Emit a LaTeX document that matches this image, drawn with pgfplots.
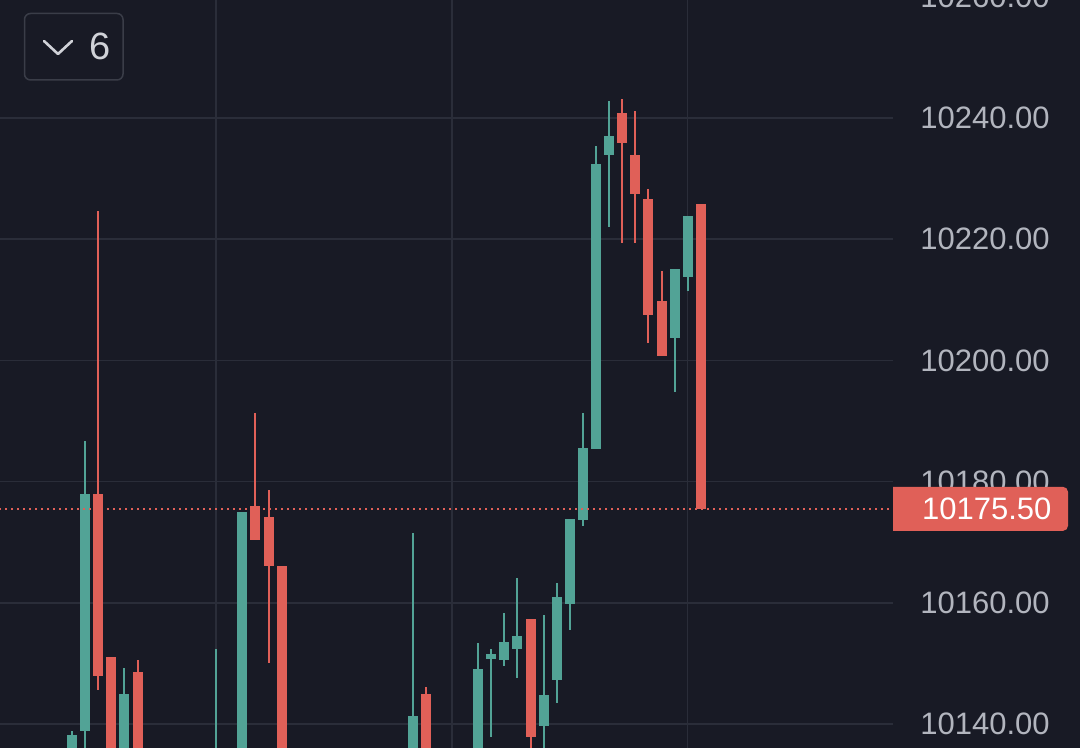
\documentclass[border=0pt]{standalone}
\usepackage{pgfplots}
\pgfplotsset{compat=1.18}
\usepackage{pgfplotstable}
\usepackage{fontspec}
\setmainfont{Liberation Sans}
\definecolor{bg}{RGB}{24,26,37}
\definecolor{gridc}{RGB}{42,45,57}
\definecolor{cgreen}{RGB}{82,163,150}
\definecolor{cred}{RGB}{224,96,88}
\definecolor{lab}{RGB}{178,181,190}
\definecolor{btnborder}{RGB}{58,61,72}
\definecolor{btntext}{RGB}{208,210,216}

\pgfplotstableread{
k O H L C
0 10128 10138.9 10124 10138.35
1 10138.9 10186.9 10128 10178.1
4 10128 10149.2 10124 10145.1
11 10122 10152.5 10118 10130
13 10122 10175.0 10118 10175.0
26 10128 10171.5 10124 10141.3
31 10130 10153.4 10126 10149.2
32 10150.9 10152.4 10137.9 10151.7
33 10150.6 10158.5 10149.7 10153.5
34 10152.4 10164.1 10147.6 10154.5
36 10139.7 10158.0 10132 10144.8
37 10147.4 10163.3 10143.5 10161.1
38 10159.8 10173.8 10155.5 10173.8
39 10173.7 10191.5 10172.8 10185.5
40 10185.4 10235.4 10185.4 10232.4
41 10233.9 10242.8 10222.0 10237.0
46 10203.7 10215.1 10194.8 10215.1
47 10213.9 10224.0 10211.6 10224.0
}\greendata

\pgfplotstableread{
k O H L C
2 10178.1 10224.7 10145.6 10148.1
3 10151.1 10151.1 10124 10128
5 10148.7 10150.6 10126 10130
14 10176.0 10191.3 10170.4 10170.4
15 10174.3 10178.6 10150.1 10166.1
16 10166.2 10166.2 10118 10122
27 10145.1 10146.3 10124 10128
35 10157.3 10157.3 10134 10137.9
42 10240.8 10243.3 10219.5 10235.9
43 10234.1 10241.2 10219.4 10227.6
44 10226.8 10228.3 10202.9 10207.7
45 10209.8 10214.8 10200.7 10200.7
48 10225.8 10225.8 10175.5 10175.5
}\reddata

\pgfplotstableread{
x y
-6 10175.5
63 10175.5
}\priceline

\begin{document}
\begin{tikzpicture}
\useasboundingbox (0,0) rectangle (540pt,374pt);
\clip (0,0) rectangle (540pt,374pt);
\fill[bg] (0,0) rectangle (540pt,374pt);
\begin{axis}[
  at={(0pt,-3.15pt)}, anchor=south west,
  scale only axis, width=446.5pt, height=384.81pt,
  xmin=-5.496, xmax=62.67, ymin=10135, ymax=10262,
  axis line style={draw=none},
  major tick style={draw=none},
  grid=major,
  major grid style={gridc, line width=0.75pt},
  xtick={11,29,47}, xticklabels={},
  ytick={10140,10160,10180,10200,10220,10240,10260},
  scaled y ticks=false,
  yticklabel pos=right,
  yticklabel style={anchor=west, inner sep=0pt, xshift=13.5pt,
    font=\fontsize{15.5}{18}\selectfont, text=lab,
    /pgf/number format/fixed, /pgf/number format/fixed zerofill,
    /pgf/number format/precision=2, /pgf/number format/1000 sep={},
    /pgf/number format/assume math mode=true},
]
% green wicks and bodies
\addplot[draw=none, mark=none, forget plot,
  error bars/.cd, y dir=both, y explicit, error mark=none,
  error bar style={draw=cgreen, line width=1pt}]
  table[x=k, y expr={(\thisrow{H}+\thisrow{L})/2}, y error expr={(\thisrow{H}-\thisrow{L})/2}] {\greendata};
\addplot[draw=none, mark=none, forget plot,
  error bars/.cd, y dir=both, y explicit, error mark=none,
  error bar style={draw=cgreen, line width=5pt}]
  table[x=k, y expr={(\thisrow{O}+\thisrow{C})/2}, y error expr={abs(\thisrow{C}-\thisrow{O})/2}] {\greendata};
% red wicks and bodies
\addplot[draw=none, mark=none, forget plot,
  error bars/.cd, y dir=both, y explicit, error mark=none,
  error bar style={draw=cred, line width=1pt}]
  table[x=k, y expr={(\thisrow{H}+\thisrow{L})/2}, y error expr={(\thisrow{H}-\thisrow{L})/2}] {\reddata};
\addplot[draw=none, mark=none, forget plot,
  error bars/.cd, y dir=both, y explicit, error mark=none,
  error bar style={draw=cred, line width=5pt}]
  table[x=k, y expr={(\thisrow{O}+\thisrow{C})/2}, y error expr={abs(\thisrow{C}-\thisrow{O})/2}] {\reddata};
% last price line
\addplot[cred, line width=1pt, dash pattern=on 1pt off 2pt, forget plot] table[x=x,y=y] {\priceline};
\coordinate (pl) at (axis cs:62.67,10175.5);
\end{axis}
% price label
\fill[cred] ([yshift=-11pt]pl) -- ([yshift=11pt]pl) [rounded corners=2.5pt] -- ++(87.5pt,0) -- ++(0,-22pt) [sharp corners] -- cycle;
\node[anchor=west, inner sep=0pt, text=white, font=\fontsize{15.5}{18}\selectfont] at ([xshift=14.35pt]pl) {10175.50};
% top-left button
\draw[btnborder, line width=0.75pt, rounded corners=3pt] (12.25pt,334pt) rectangle (61.5pt,367.25pt);
\draw[btntext, line width=1.3pt, line cap=round, line join=round] (22pt,353.5pt) -- (29pt,347pt) -- (36pt,353.5pt);
\node[text=btntext, inner sep=0pt, font=\fontsize{19}{22}\selectfont] at (50pt,351pt) {6};
\end{tikzpicture}
\end{document}
